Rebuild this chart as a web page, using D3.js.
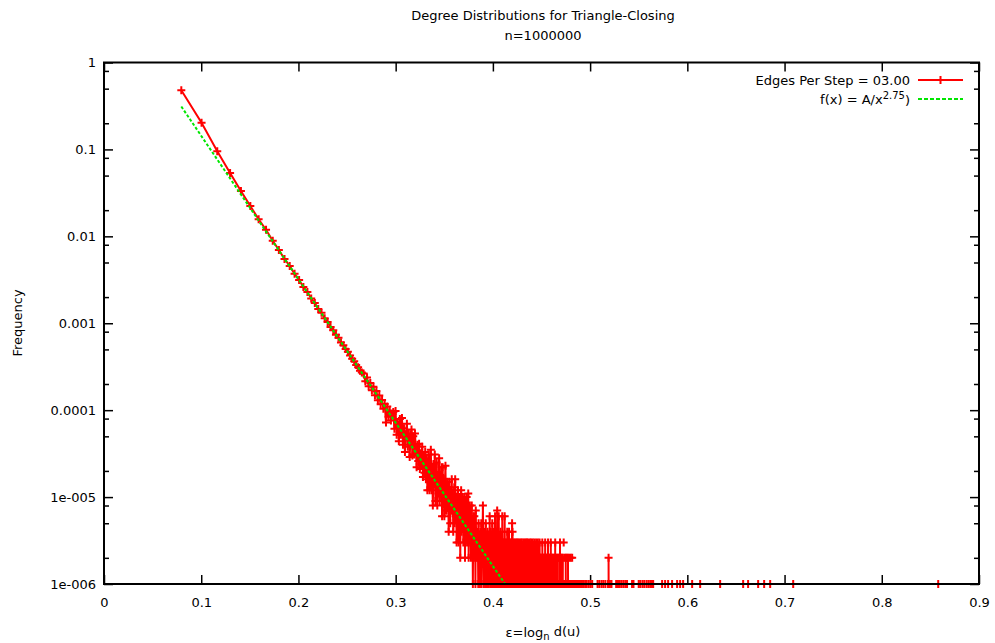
<!DOCTYPE html>
<html>
<head>
<meta charset="utf-8">
<script src="https://cdn.jsdelivr.net/npm/d3@7"></script>
<style>
  body { margin: 0; background: #fff; }
  text { font-family: "DejaVu Sans", Verdana, sans-serif; font-size: 13px; fill: #000; }
</style>
</head>
<body>
<script>
// numero di nodi
const n = 1000000;

// conteggi per grado consecutivo, a partire da grado 3
const firstDegree = 3;
const headCounts = [
  480000, 203000, 95500, 53400, 33200, 22300, 15700, 11900,
  8900, 6950, 5500, 4560, 3700, 3150, 2610, 2290, 1930, 1710, 1460, 1320, 1140, 1035, 905, 830, 735, 680, 600, 560,
  505, 470, 425, 390, 365, 330, 312, 285, 272, 265, 215, 238, 188, 205, 170, 186, 148, 166, 130, 147, 117, 131, 104, 118, 72, 110, 84, 99, 76, 90,
  95, 61, 98, 52, 73, 44, 79, 52, 81, 40, 62, 33, 53, 70, 38, 54, 29, 52, 60, 30,
  50, 31, 54, 36, 22, 40, 26, 41, 21, 32, 23, 38, 17, 30, 19, 33, 16, 28, 12, 23,
  31, 12, 21, 35, 12, 22, 8, 24, 14, 31, 9, 18, 25, 8, 18, 11, 28, 9, 18, 12,
  22, 6, 22, 10, 16, 6, 14, 23, 7, 7, 15, 8, 13, 4, 15, 10, 5, 12, 7, 16,
  7, 11, 4, 9, 13, 5, 16, 6, 10, 3, 9, 5, 12, 3, 8, 4, 10, 2, 7, 12,
  4, 8, 5, 10, 3, 7, 4, 10, 2, 7, 4, 6, 10, 3, 7, 4, 11, 2, 6, 4,
  8, 3, 6, 2, 5, 8, 3, 5, 1, 6, 4, 2, 6, 3, 5, 1, 7, 3, 4, 2
];
// gradi 201..800 (0 = nessun nodo, linea interrotta)
const midCounts = [
  4,2,3,1,5,2,3,2,1,4,3,2,5,1,3,2,4,8,2,3,
  1,3,2,4,1,2,5,3,1,2,3,2,4,1,3,2,1,3,2,6,
  2,1,3,4,2,1,3,2,5,1,2,3,1,2,4,1,3,2,6,1,
  2,3,1,2,4,1,7,2,1,3,2,1,6,2,3,1,2,1,3,4,
  1,2,3,1,2,1,6,2,1,3,1,2,3,0,2,1,6,1,2,3,
  1,2,0,3,1,2,1,4,2,1,0,3,2,1,2,4,1,0,2,1,
  3,1,2,0,1,3,2,1,2,5,1,4,2,0,1,2,3,1,0,2,
  1,3,2,1,0,2,1,3,1,2,0,1,2,3,1,0,2,1,1,3,
  2,0,1,2,1,3,0,1,2,1,0,2,3,1,1,0,2,1,3,1,
  0,2,1,2,0,1,3,1,0,2,1,1,0,3,2,1,0,1,2,1,
  3,0,1,2,1,0,2,3,1,0,1,2,0,1,3,1,0,2,1,0,
  1,2,1,0,3,1,0,1,2,0,1,1,3,0,2,1,0,1,2,1,
  0,3,1,0,2,1,1,0,1,2,0,3,1,0,1,2,0,1,1,0,
  2,1,0,3,1,0,1,2,0,1,1,0,2,1,0,3,1,0,1,2,
  0,1,1,0,2,0,1,3,1,0,1,2,0,1,0,2,1,0,1,1,
  0,2,1,0,1,0,3,1,0,1,2,0,1,0,1,1,0,2,1,0,
  1,0,2,1,0,0,1,3,1,0,1,0,2,1,0,1,0,1,2,0,
  1,0,1,0,2,1,0,0,1,3,0,1,0,1,2,0,1,0,0,1,
  2,1,0,1,0,0,1,2,0,1,0,3,1,0,0,1,0,2,1,0,
  0,1,0,1,2,0,0,1,0,1,0,0,2,1,0,1,0,0,1,0,
  1,0,2,0,1,0,0,1,3,0,1,0,0,1,0,2,1,0,0,1,
  0,0,1,0,2,1,0,0,1,0,1,0,0,2,0,1,0,0,1,0,
  1,0,0,2,1,0,0,1,0,0,1,3,0,0,1,0,1,0,0,2,
  1,0,0,1,0,0,1,0,2,0,0,1,0,1,0,0,0,1,2,0,
  0,1,0,0,1,0,3,0,0,1,0,0,1,0,2,0,0,1,0,0,
  1,0,0,0,1,0,2,1,0,0,1,0,0,0,1,0,2,0,0,1,
  0,0,1,0,0,1,0,0,0,2,1,0,0,0,1,0,0,1,0,0,
  0,1,0,0,2,0,0,0,1,0,0,1,0,0,0,1,0,0,2,0,
  0,0,1,0,0,0,1,0,0,0,0,1,0,0,2,0,0,0,1,0,
  0,0,0,1,0,0,0,0,1,0,0,0,0,1,0,0,0,0,0,1
];
// coda sparsa: [grado, conteggio]
const tailPoints = [
  [812,1],[830,1],[851,1],[866,1],[889,1],[905,1],[931,1],[952,1],[978,1],[1003,1],[1030,1],
  [1112,1],[1141,1],[1177,1],[1208,1],[1243,1],[1290,1],[1300,2],[1301,1],[1325,1],[1355,1],
  [1448,1],[1486,1],[1522,1],[1560,1],[1603,1],[1648,1],[1690,1],[1815,1],[1852,1],
  [1995,1],[2040,1],[2105,1],[2160,1],[2230,1],[2290,1],[2350,1],[2410,1],[2450,1],
  [2782,1],[2903,1],[3030,1],[3206,1],[3443,1],[3594,1],[3750,1],[4263,1],[4777,1],
  [6346,1],[8800,1],[9441,1],[10890,1],[11860,1],[12920,1],[17920,1],[140700,1]
];

const xTicks = [0, 0.1, 0.2, 0.3, 0.4, 0.5, 0.6, 0.7, 0.8, 0.9];
const yTicks = [1, 0.1, 0.01, 0.001, 0.0001, 1e-5, 1e-6];
const yTickLabels = ["1", "0.1", "0.01", "0.001", "0.0001", "1e-005", "1e-006"];
const yMinorFactors = [0.8, 0.5, 0.2];

// funzione di fit f(x) = A / d^2.75 con d = n^x
const fitA = 6.4;
const fitPower = 2.75;

const titleLines = ["Degree Distributions for Triangle-Closing", "n=1000000"];
const seriesLabel = "Edges Per Step = 03.00";

const width = 995, height = 643;
const plotL = 104, plotR = 979, plotT = 62.5, plotB = 584;

const svg = d3.select("body").append("svg").attr("width", width).attr("height", height);

const x = d3.scaleLinear().domain([0, 0.9]).range([plotL, plotR]);
const y = d3.scaleLog().domain([1e-6, 1]).range([plotB, plotT]);

// punti
const points = [];
headCounts.concat(midCounts).forEach((c, i) => {
  if (c > 0) points.push({ d: firstDegree + i, c: c });
});
tailPoints.forEach(([d, c]) => points.push({ d: d, c: c }));
points.forEach((p) => {
  p.eps = Math.log(p.d) / Math.log(n);
  p.freq = p.c / n;
});

// linea interrotta fra gradi non consecutivi
const linePts = [];
points.forEach((p, i) => {
  if (i > 0 && p.d !== points[i - 1].d + 1) linePts.push(null);
  linePts.push(p);
});

// assi
const minorTicks = [];
yTicks.slice(0, -1).forEach((t) => yMinorFactors.forEach((f) => minorTicks.push(t * f)));

function clean(g) {
  g.select(".domain").remove();
  g.selectAll("line").attr("stroke", "#000").attr("stroke-width", 1.5);
}

svg.append("g").attr("transform", `translate(${plotL},0)`)
  .call(d3.axisLeft(y).tickValues(yTicks).tickFormat((d, i) => yTickLabels[i]).tickSizeInner(-9).tickSizeOuter(0).tickPadding(8))
  .call(clean);
svg.append("g").attr("transform", `translate(${plotL},0)`)
  .call(d3.axisLeft(y).tickValues(minorTicks).tickFormat("").tickSizeInner(-5).tickSizeOuter(0))
  .call(clean);
svg.append("g").attr("transform", `translate(${plotR},0)`)
  .call(d3.axisRight(y).tickValues(yTicks).tickFormat("").tickSizeInner(-9).tickSizeOuter(0))
  .call(clean);
svg.append("g").attr("transform", `translate(${plotR},0)`)
  .call(d3.axisRight(y).tickValues(minorTicks).tickFormat("").tickSizeInner(-5).tickSizeOuter(0))
  .call(clean);
svg.append("g").attr("transform", `translate(0,${plotB})`)
  .call(d3.axisBottom(x).tickValues(xTicks).tickFormat((d) => (d === 0 ? "0" : d3.format(".1f")(d))).tickSizeInner(-9).tickSizeOuter(0).tickPadding(14))
  .call(clean);
svg.append("g").attr("transform", `translate(0,${plotT})`)
  .call(d3.axisTop(x).tickValues(xTicks).tickFormat("").tickSizeInner(-9).tickSizeOuter(0))
  .call(clean);
svg.selectAll(".tick text").attr("font-family", null).attr("font-size", null).attr("fill", null);

// serie dati
const line = d3.line().defined((p) => p !== null).x((p) => x(p.eps)).y((p) => y(p.freq));
svg.append("path")
  .datum(linePts)
  .attr("d", line)
  .attr("fill", "none")
  .attr("stroke", "#ff0000")
  .attr("stroke-width", 2);

const cross = "M-4,0H4M0,-4V4";
svg.append("g")
  .selectAll("path")
  .data(points)
  .enter()
  .append("path")
  .attr("transform", (p) => `translate(${x(p.eps)},${y(p.freq)})`)
  .attr("d", cross)
  .attr("stroke", "#ff0000")
  .attr("stroke-width", 2);

// fit
svg.append("clipPath").attr("id", "plot-clip")
  .append("rect").attr("x", plotL).attr("y", plotT).attr("width", plotR - plotL).attr("height", plotB - plotT);
const eps0 = Math.log(firstDegree) / Math.log(n);
const fitPts = d3.range(0, 41).map((i) => eps0 + (i / 40) * (0.45 - eps0));
svg.append("path")
  .datum(fitPts)
  .attr("clip-path", "url(#plot-clip)")
  .attr("d", d3.line().x((e) => x(e)).y((e) => y(fitA * Math.pow(n, -fitPower * e))))
  .attr("fill", "none")
  .attr("stroke", "#00e600")
  .attr("stroke-width", 2)
  .attr("stroke-dasharray", "3,2");

// bordo
svg.append("rect")
  .attr("x", plotL).attr("y", plotT)
  .attr("width", plotR - plotL).attr("height", plotB - plotT)
  .attr("fill", "none").attr("stroke", "#000").attr("stroke-width", 2);

// legenda
const legX = 910, lineX0 = 918, lineX1 = 963;
svg.append("text").attr("x", legX).attr("y", 80).attr("dy", "0.35em").attr("text-anchor", "end").text(seriesLabel);
svg.append("line").attr("x1", lineX0).attr("x2", lineX1).attr("y1", 80).attr("y2", 80)
  .attr("stroke", "#ff0000").attr("stroke-width", 2);
svg.append("path").attr("transform", `translate(${(lineX0 + lineX1) / 2},80)`).attr("d", cross)
  .attr("stroke", "#ff0000").attr("stroke-width", 2);

const fitLabel = svg.append("text").attr("x", legX).attr("y", 99).attr("dy", "0.35em").attr("text-anchor", "end");
fitLabel.append("tspan").text("f(x) = A/x");
fitLabel.append("tspan").attr("dy", "-0.45em").style("font-size", "10px").text("2.75");
fitLabel.append("tspan").attr("dy", "0.45em").text(")");
svg.append("line").attr("x1", lineX0).attr("x2", lineX1).attr("y1", 99).attr("y2", 99)
  .attr("stroke", "#00e600").attr("stroke-width", 2).attr("stroke-dasharray", "4,2");

// titolo
svg.append("text").attr("x", 543).attr("y", 20).attr("text-anchor", "middle").text(titleLines[0]);
svg.append("text").attr("x", 543).attr("y", 40).attr("text-anchor", "middle").text(titleLines[1]);

// etichette assi
svg.append("text")
  .attr("transform", "translate(22,323) rotate(-90)")
  .attr("text-anchor", "middle")
  .text("Frequency");
const xl = svg.append("text").attr("x", 543).attr("y", 637).attr("text-anchor", "middle");
xl.append("tspan").text("ε=log");
xl.append("tspan").attr("dy", "0.3em").style("font-size", "10px").text("n");
xl.append("tspan").attr("dy", "-0.3em").text(" d(u)");
</script>
</body>
</html>
